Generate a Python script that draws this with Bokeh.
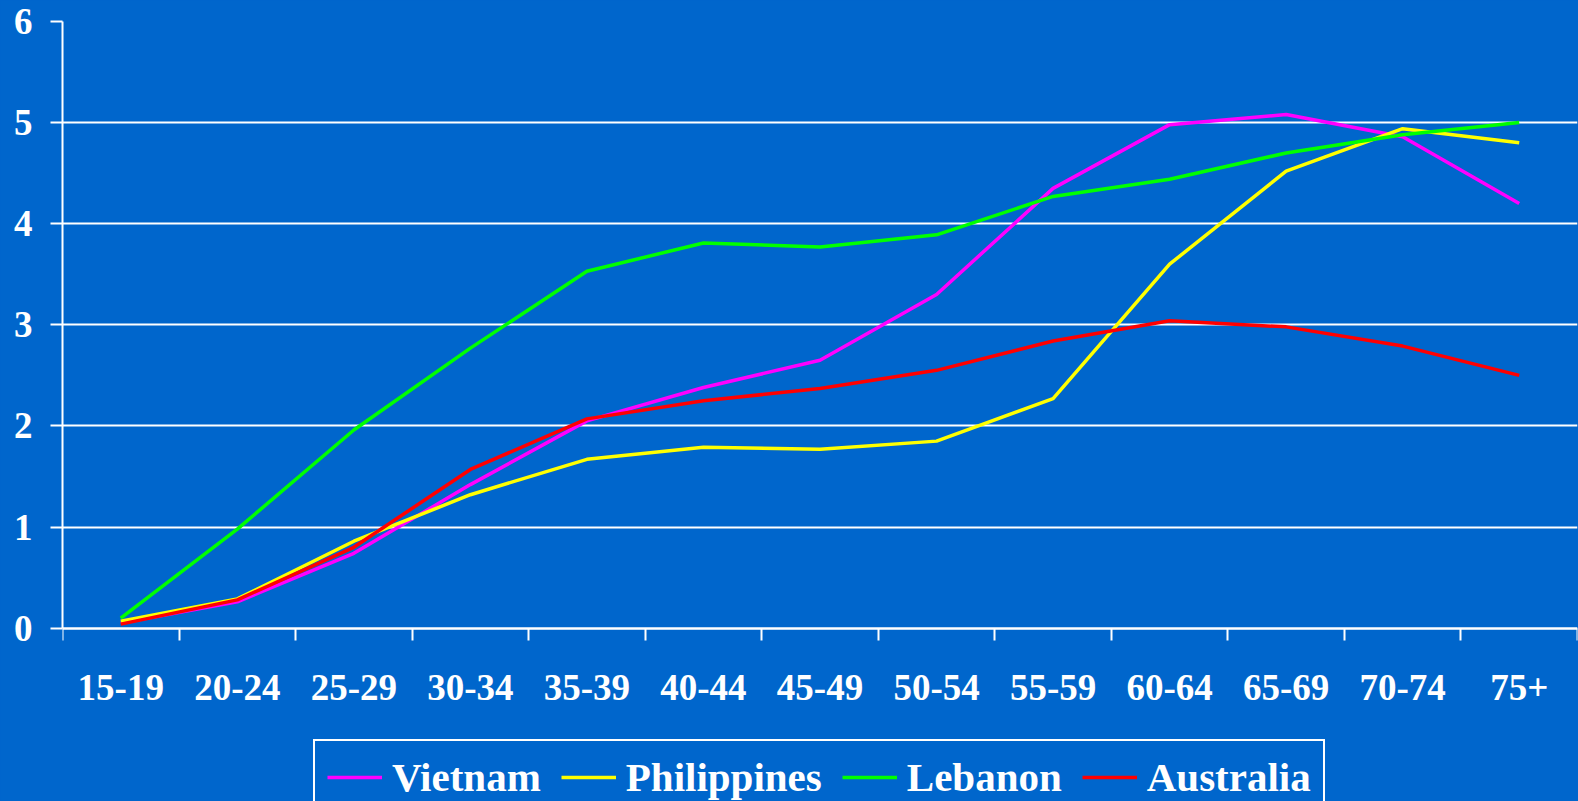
from bokeh.plotting import figure
from bokeh.models import FixedTicker, Legend, LegendItem, Range1d
from bokeh.embed import file_html
from bokeh.resources import INLINE

ages = ["15-19", "20-24", "25-29", "30-34", "35-39", "40-44", "45-49",
        "50-54", "55-59", "60-64", "65-69", "70-74", "75+"]
vietnam = [0.05, 0.26, 0.74, 1.42, 2.05, 2.38, 2.65, 3.30, 4.35, 4.98, 5.08, 4.86, 4.20]
philippines = [0.07, 0.29, 0.86, 1.32, 1.67, 1.79, 1.77, 1.85, 2.27, 3.60, 4.52, 4.94, 4.80]
lebanon = [0.10, 0.98, 1.96, 2.77, 3.53, 3.81, 3.77, 3.89, 4.27, 4.44, 4.70, 4.88, 5.00]
australia = [0.04, 0.28, 0.80, 1.57, 2.07, 2.25, 2.37, 2.55, 2.84, 3.04, 2.98, 2.79, 2.50]
yticks = [0, 1, 2, 3, 4, 5, 6]

series = [("Vietnam", vietnam, "#FF00FF"),
          ("Philippines", philippines, "#FFFF00"),
          ("Lebanon", lebanon, "#00FF00"),
          ("Australia", australia, "#FF0000")]

BG = "#0066CC"
FONT = "Liberation Serif"

x = [i + 0.5 for i in range(len(ages))]

# frame spans down to the window bottom so the legend can sit inside it;
# the x axis is pinned at y = 0
p = figure(frame_width=1515, frame_height=780, output_backend="svg", toolbar_location=None,
           x_range=Range1d(0, len(ages)), y_range=Range1d(-1.714, 6),
           min_border_left=62, min_border_right=1, min_border_top=21,
           min_border_bottom=0)
p.background_fill_color = BG
p.border_fill_color = BG
p.outline_line_color = None

renderers = []
for name, vals, col in series:
    r = p.line(x, vals, line_color=col, line_width=3.5)
    renderers.append((name, r))

p.xgrid.grid_line_color = None
p.ygrid.grid_line_color = "white"
p.ygrid.grid_line_width = 2
p.ygrid.ticker = FixedTicker(ticks=yticks)

xa = p.xaxis[0]
xa.fixed_location = 0
xa.ticker = FixedTicker(ticks=x, minor_ticks=list(range(len(ages) + 1)))
xa.major_label_overrides = {xv: lab for xv, lab in zip(x, ages)}
xa.major_tick_out = 0
xa.major_tick_in = 0
xa.minor_tick_out = 12
xa.minor_tick_in = 0
xa.minor_tick_line_color = "white"
xa.minor_tick_line_width = 2
xa.axis_line_color = "white"
xa.axis_line_width = 2
xa.major_label_text_color = "white"
xa.major_label_text_font = FONT
xa.major_label_text_font_style = "bold"
xa.major_label_text_font_size = "37px"
xa.major_label_standoff = 35

ya = p.yaxis[0]
ya.bounds = (0, 6)
ya.ticker = FixedTicker(ticks=yticks)
ya.major_tick_out = 12
ya.major_tick_in = 0
ya.minor_tick_line_color = None
ya.major_tick_line_color = "white"
ya.major_tick_line_width = 2
ya.axis_line_color = "white"
ya.axis_line_width = 2
ya.major_label_text_color = "white"
ya.major_label_text_font = FONT
ya.major_label_text_font_style = "bold"
ya.major_label_text_font_size = "37px"
ya.major_label_standoff = 18

legend = Legend(items=[LegendItem(label=n, renderers=[r]) for n, r in renderers],
                orientation="horizontal", location=(251, -14))
legend.background_fill_color = BG
legend.background_fill_alpha = 1
legend.border_line_color = "white"
legend.border_line_width = 2
legend.border_line_alpha = 1
legend.label_text_color = "white"
legend.label_text_font = FONT
legend.label_text_font_style = "bold"
legend.label_text_font_size = "41px"
legend.glyph_width = 55
legend.label_standoff = 10
legend.spacing = 20
legend.padding = 12
legend.margin = 0
p.add_layout(legend, "center")

html = file_html(p, INLINE)
html = html.replace("<head>", "<head><style>html,body{background:%s;overflow:hidden;}</style>" % BG, 1)
open("out.html", "w").write(html)
